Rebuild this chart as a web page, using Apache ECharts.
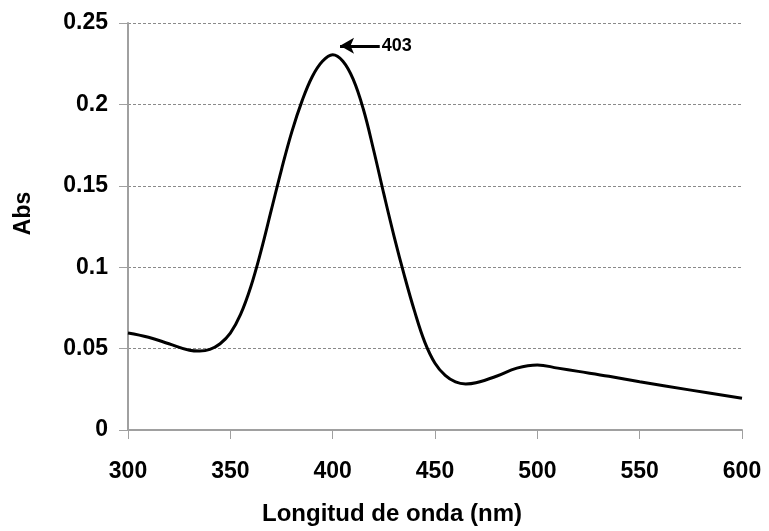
<!DOCTYPE html>
<html>
<head>
<meta charset="utf-8">
<script src="https://cdn.jsdelivr.net/npm/echarts@6/dist/echarts.min.js"></script>
<style>
html,body{margin:0;padding:0;background:#fff;}
#c{width:769px;height:531px;}
</style>
</head>
<body>
<div id="c"></div>
<script>
const wavelengths = [300,310,320,330,335,340,345,350,355,360,365,370,375,380,385,390,395,400,405,410,415,420,425,430,435,440,445,450,455,460,465,470,480,490,500,510,520,535,550,575,600];
const absValues = [0.0596,0.057,0.053,0.049,0.0485,0.0495,0.053,0.0595,0.071,0.088,0.110,0.135,0.160,0.183,0.202,0.217,0.2265,0.2305,0.2265,0.2155,0.197,0.172,0.145,0.119,0.095,0.073,0.054,0.041,0.0335,0.0295,0.0283,0.029,0.033,0.038,0.040,0.038,0.036,0.033,0.0296,0.0245,0.0195];
const xTicks = {min:300, max:600, interval:50};
const yTicks = {min:0, max:0.25, interval:0.05};
const peakLabel = '403';
const arrowFrom = [423, 0.236];
const arrowTo = [403.6, 0.236];

const data = wavelengths.map((w,i)=>[w, absValues[i]]);
const font = '"Liberation Sans", Arial, sans-serif';
const chart = echarts.init(document.getElementById('c'));
chart.setOption({
  animation:false,
  backgroundColor:'#fff',
  grid:{left:128, right:27, top:23, bottom:98},
  xAxis:{
    type:'value', min:xTicks.min, max:xTicks.max, interval:xTicks.interval,
    name:'Longitud de onda (nm)', nameLocation:'middle', nameGap:72,
    nameTextStyle:{fontFamily:font, fontWeight:'bold', fontSize:24, color:'#000', padding:[0,86,0,0]},
    axisLine:{lineStyle:{color:'#a0a0a0', width:2}},
    axisTick:{show:true, length:9, lineStyle:{color:'#a0a0a0', width:1}},
    axisLabel:{fontFamily:font, fontWeight:'bold', fontSize:23, color:'#000', margin:30},
    splitLine:{show:false}
  },
  yAxis:{
    type:'value', min:yTicks.min, max:yTicks.max, interval:yTicks.interval,
    name:'Abs', nameLocation:'middle', nameGap:93, nameRotate:90,
    nameTextStyle:{fontFamily:font, fontWeight:'bold', fontSize:23, color:'#000', padding:[0,0,0,26]},
    axisLine:{show:true, lineStyle:{color:'#a0a0a0', width:2}},
    axisTick:{show:true, length:9, lineStyle:{color:'#a0a0a0', width:1}},
    axisLabel:{fontFamily:font, fontWeight:'bold', fontSize:23, color:'#000', margin:20},
    splitLine:{show:true, lineStyle:{color:'#8a8a8a', type:[3,2], width:1}}
  },
  series:[{
    type:'line', data:data, smooth:0.4, showSymbol:false,
    lineStyle:{color:'#000', width:3},
    markLine:{
      silent:true, animation:false,
      symbol:['none','arrow'], symbolSize:[12,14],
      lineStyle:{color:'#000', width:3, type:'solid'},
      label:{show:true, position:'start', formatter:peakLabel, distance:2,
        fontFamily:font, fontWeight:'bold', fontSize:18, color:'#000'},
      data:[[{coord:arrowFrom},{coord:arrowTo}]]
    }
  }]
});
</script>
</body>
</html>
